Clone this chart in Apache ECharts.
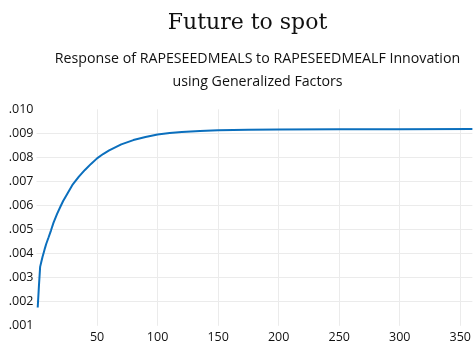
<!DOCTYPE html>
<html>
<head>
<meta charset="utf-8">
<style>
  html, body { margin: 0; padding: 0; background: #fff; }
  #chart { width: 474px; height: 345px; }
</style>
<script src="https://cdn.jsdelivr.net/npm/echarts@6/dist/echarts.min.js"></script>
</head>
<body>
<div id="chart"></div>
<script>
// Impulse response: periods and response values
const periods = [1, 2, 3, 4, 5, 6, 7, 8, 10, 12, 14, 17, 20, 22, 25, 30, 35, 40, 45, 50,
  55, 60, 70, 80, 90, 100, 110, 120, 135, 150, 175, 200, 250, 300, 360];
const response = [0.00176, 0.00265, 0.00345, 0.00366, 0.00387, 0.00405, 0.00423, 0.00440,
  0.00468, 0.00497, 0.00528, 0.00565, 0.00598, 0.00619, 0.00645, 0.00688, 0.00720, 0.00748,
  0.00773, 0.00796, 0.00814, 0.00829, 0.00854, 0.00872, 0.00885, 0.00895, 0.00901, 0.00906,
  0.00910, 0.00913, 0.00915, 0.00916, 0.00917, 0.00917, 0.00918];

const mainTitle = 'Future to spot';
const subTitle = 'Response of RAPESEEDMEALS to RAPESEEDMEALF Innovation\nusing Generalized Factors';

const gridColor = '#ebebeb';
const labelFont = '"Open Sans", "Noto Sans", sans-serif';

const chart = echarts.init(document.getElementById('chart'), null, { renderer: 'canvas' });
chart.setOption({
  animation: false,
  title: [
    {
      text: mainTitle,
      left: 242.5, top: 7, textAlign: 'center',
      textStyle: { fontFamily: '"DejaVu Serif", serif', fontSize: 22, fontWeight: 'normal', color: '#111' }
    },
    {
      text: subTitle,
      left: 252.5, top: 42, textAlign: 'center',
      textStyle: { fontFamily: labelFont, fontSize: 14.2, fontWeight: 'normal', color: '#111', lineHeight: 23 }
    }
  ],
  grid: { left: 36.5, right: -3, top: 109.3, bottom: 19.2, containLabel: false },
  xAxis: {
    type: 'value', min: 0, max: 360, interval: 50,
    axisLine: { show: false }, axisTick: { show: false },
    axisLabel: {
      margin: 5, color: '#111', fontFamily: labelFont, fontSize: 12.5,
      showMinLabel: false, showMaxLabel: false
    },
    splitLine: { show: true, lineStyle: { color: ['transparent', gridColor, gridColor, gridColor, gridColor, gridColor, gridColor, gridColor, 'transparent'], width: 1 } }
  },
  yAxis: {
    type: 'value', min: 0.001, max: 0.010, interval: 0.001,
    axisLine: { show: false }, axisTick: { show: false },
    axisLabel: {
      margin: 3, color: '#111', fontFamily: labelFont, fontSize: 12.5,
      formatter: v => v.toFixed(3).replace(/^0/, '')
    },
    splitLine: { show: true, lineStyle: { color: ['transparent', gridColor, gridColor, gridColor, gridColor, gridColor, gridColor, gridColor, gridColor, 'transparent'], width: 1 } }
  },
  series: [{
    type: 'line',
    data: periods.map((p, i) => [p, response[i]]),
    showSymbol: false,
    smooth: false,
    lineStyle: { color: '#0b6fbd', width: 2 },
    clip: true
  }]
});
</script>
</body>
</html>
